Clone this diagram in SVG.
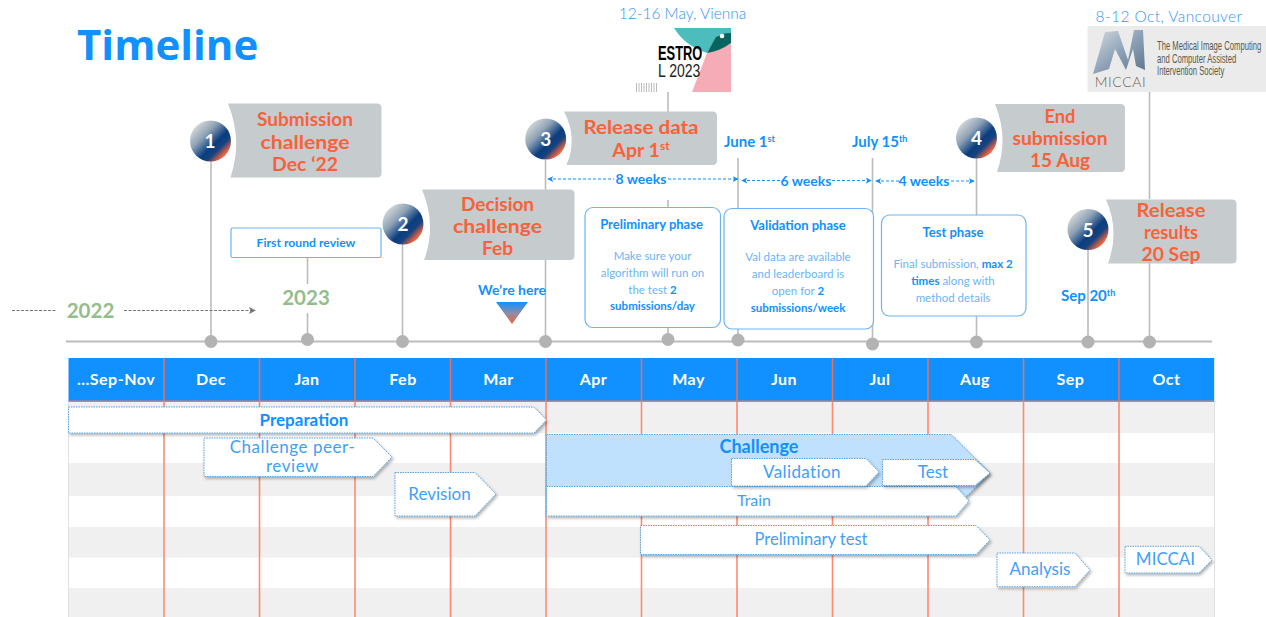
<svg xmlns="http://www.w3.org/2000/svg" width="1266" height="617" viewBox="0 0 1266 617">
<style>
text{font-family:"Lato","Open Sans","Liberation Sans",sans-serif;text-anchor:middle}
.title{font-family:"Open Sans","Liberation Sans",sans-serif;font-weight:700;font-size:42px;fill:#1190ff;text-anchor:start}
.banner{fill:#c6cbce}
.bt{font-weight:700;font-size:19.500px;fill:#f8623a}
.num{font-weight:700;font-size:19px;fill:#fff}
.ball{fill:url(#ball)}
.stem{stroke:#bcbcbc;stroke-width:1.600;fill:none}
.axis{stroke:#bcbcbc;stroke-width:2;fill:none}
.dot{fill:#b3b3b3}
.box{fill:#fff;stroke:#6cb4f7;stroke-width:1.200}
.bh{font-weight:700;font-size:13px;fill:#1190ff}
.bb{font-size:11.500px;fill:#6cb4f7}
.bb tspan{font-weight:700;fill:#1190ff}
.date{font-weight:700;font-size:15px;fill:#1190ff;text-anchor:start}
.wk{font-weight:700;font-size:14px;fill:#1190ff}
.wline{stroke:#1190ff;stroke-width:1.200;stroke-dasharray:3 2;fill:none;marker-start:url(#wa);marker-end:url(#wb)}
.place{font-size:15.500px;font-weight:300;fill:#2f95f5}
.yr{font-weight:700;font-size:20.500px;fill:#93bd8c}
.mon{font-weight:700;font-size:16px;fill:#fff;letter-spacing:.5px}
.grid{stroke:#ff8a70;stroke-width:1.600}
.gridh{stroke:#e8705a;stroke-width:1.600}
.rowg{fill:#f0f0f0}
.arr{fill:#fff;stroke:#5aa5e0;stroke-width:1;stroke-dasharray:1.500 1;filter:url(#sh)}
.at{font-size:17px;fill:#3fa0f8}
.ab{font-weight:700;font-size:17px;fill:#1190ff}
.logo{font-family:"Liberation Sans",sans-serif;text-anchor:start}
</style>
<defs>
<linearGradient id="ball" x1=".15" y1=".15" x2=".85" y2=".85">
<stop offset="0" stop-color="#cfd3d5"/><stop offset=".3" stop-color="#8ea2b6"/><stop offset=".62" stop-color="#0a3d7f"/><stop offset=".78" stop-color="#15437f"/><stop offset=".98" stop-color="#f8623a"/>
</linearGradient>
<linearGradient id="tri" x1="0" y1="0" x2="0" y2="1"><stop offset="0" stop-color="#1190ff"/><stop offset=".5" stop-color="#8a8ea8"/><stop offset="1" stop-color="#f8623a"/></linearGradient>
<linearGradient id="fade" x1="0" y1="0" x2="0" y2="1"><stop offset="0" stop-color="#1190ff" stop-opacity=".1"/><stop offset=".5" stop-color="#1190ff"/></linearGradient>
<linearGradient id="mg" x1="0" y1="0" x2="1" y2="1"><stop offset="0" stop-color="#d8dde2"/><stop offset=".5" stop-color="#8fa3b8"/><stop offset="1" stop-color="#5d7288"/></linearGradient>
<marker id="wa" viewBox="0 0 8 8" refX="1" refY="4" markerWidth="6" markerHeight="6" markerUnits="userSpaceOnUse" orient="auto"><path d="M8,0L0,4L8,8L6,4Z" fill="#1190ff"/></marker>
<marker id="wb" viewBox="0 0 8 8" refX="7" refY="4" markerWidth="6" markerHeight="6" markerUnits="userSpaceOnUse" orient="auto"><path d="M0,0L8,4L0,8L2,4Z" fill="#1190ff"/></marker>
<marker id="ga" viewBox="0 0 8 8" refX="7" refY="4" markerWidth="7" markerHeight="7" markerUnits="userSpaceOnUse" orient="auto"><path d="M0,0L8,4L0,8L2,4Z" fill="#777"/></marker>
<filter id="sh" x="-5%" y="-15%" width="112%" height="140%"><feDropShadow dx="1.500" dy="2" stdDeviation="1.500" flood-color="#000" flood-opacity=".3"/></filter>
</defs>

<rect width="1266" height="617" fill="#fff"/>
<text class="title" x="77" y="60">Timeline</text>

<g id="table">
<rect class="rowg" x="68.500" y="402" width="1146" height="31"/>
<rect class="rowg" x="68.500" y="463" width="1146" height="33"/>
<rect class="rowg" x="68.500" y="527" width="1146" height="30.500"/>
<rect class="rowg" x="68.500" y="588" width="1146" height="29"/>
<rect x="68.500" y="358" width="1145.500" height="43" fill="#1190ff"/>
<rect x="68.500" y="400.500" width="1145.500" height="1.500" fill="#f0785a"/>
<path d="M68.500,402V617M1214.500,358V617" stroke="#e2e2e2" fill="none"/>
<path class="grid" d="M164,401V617M259.500,401V617M355,401V617M450.500,401V617M546,401V617M641.500,401V617M737,401V617M832.500,401V617M928,401V617M1023.500,401V617M1119,401V617"/>
<path class="gridh" d="M164,358V401M259.500,358V401M355,358V401M450.500,358V401M546,358V401M641.500,358V401M737,358V401M832.500,358V401M928,358V401M1023.500,358V401M1119,358V401"/>
<text class="mon" x="116" y="385">...Sep-Nov</text>
<text class="mon" x="211" y="385">Dec</text>
<text class="mon" x="307" y="385">Jan</text>
<text class="mon" x="403" y="385">Feb</text>
<text class="mon" x="498.500" y="385">Mar</text>
<text class="mon" x="593.500" y="385">Apr</text>
<text class="mon" x="688.500" y="385">May</text>
<text class="mon" x="784" y="385">Jun</text>
<text class="mon" x="880" y="385">Jul</text>
<text class="mon" x="975" y="385">Aug</text>
<text class="mon" x="1070.500" y="385">Sep</text>
<text class="mon" x="1166.500" y="385">Oct</text>
</g>

<g id="connectors">
<path class="axis" d="M66,341.500H1212"/>
<path class="stem" d="M211,160V341M307.500,258V340M402.500,244V341M545.500,160V341M668,92V112M668,200V208M668,328V339M738,158V208M738,328V340M872.500,158V344M976.500,158V215M976.500,316V342M1088,250V342M1149.500,92V199M1149.500,263V342"/>
<path d="M512,98V276" fill="none" stroke="url(#fade)" stroke-width="1.600" stroke-dasharray="5 3"/>
<path d="M12,310.500H56" stroke="#777" stroke-width="1" stroke-dasharray="3 1.500" fill="none"/>
<path d="M124,310.500H255" stroke="#777" stroke-width="1" stroke-dasharray="3 1.500" fill="none" marker-end="url(#ga)"/>
<path class="wline" d="M548,179H738"/>
<path class="wline" d="M742,180.500H871"/>
<path class="wline" d="M876,181H974"/>
<circle class="dot" cx="211" cy="341.500" r="6.500"/>
<circle class="dot" cx="307.500" cy="339.500" r="6.500"/>
<circle class="dot" cx="402.500" cy="341.500" r="6.500"/>
<circle class="dot" cx="545.500" cy="341.500" r="6.500"/>
<circle class="dot" cx="668" cy="339.500" r="6.500"/>
<circle class="dot" cx="738" cy="340" r="6.500"/>
<circle class="dot" cx="872.500" cy="344" r="6.500"/>
<circle class="dot" cx="976.500" cy="342" r="6.500"/>
<circle class="dot" cx="1088" cy="342" r="6.500"/>
<circle class="dot" cx="1149.500" cy="342" r="6.500"/>
</g>

<g id="year-2022"><rect x="57" y="296" width="67" height="29" fill="#fff"/><text class="yr" x="90.500" y="317.500">2022</text></g>
<g id="year-2023"><rect x="284" y="284" width="44" height="29" fill="#fff"/><text class="yr" x="306" y="305">2023</text></g>

<g id="milestone-1">
<path class="banner" d="M228,103.500H377Q381.500,103.500 381.500,108V173Q381.500,177.500 377,177.500H230.500Q243,140 228,103.500Z"/>
<text class="bt" x="305" y="126" textLength="96" lengthAdjust="spacingAndGlyphs">Submission</text><text class="bt" x="305" y="148.500" textLength="89" lengthAdjust="spacingAndGlyphs">challenge</text><text class="bt" x="305" y="170.500" textLength="66" lengthAdjust="spacingAndGlyphs">Dec ‘22</text>
<circle class="ball" cx="210.500" cy="141" r="20.500"/><text class="num" x="210" y="148">1</text>
</g>
<g id="milestone-2">
<path class="banner" d="M422,189.500H570Q574.500,189.500 574.500,194V255.500Q574.500,260 570,260H424Q437,225 422,189.500Z"/>
<text class="bt" x="497.500" y="210.500" textLength="73" lengthAdjust="spacingAndGlyphs">Decision</text><text class="bt" x="497.500" y="232.500" textLength="89" lengthAdjust="spacingAndGlyphs">challenge</text><text class="bt" x="497.500" y="254.500" textLength="31" lengthAdjust="spacingAndGlyphs">Feb</text>
<circle class="ball" cx="403" cy="224" r="20.500"/><text class="num" x="403" y="231">2</text>
</g>
<g id="milestone-3">
<path class="banner" d="M564,111.500H712.500Q717,111.500 717,116V160.500Q717,165 712.500,165H566.500Q578,138 564,111.500Z"/>
<text class="bt" x="641" y="134" textLength="115" lengthAdjust="spacingAndGlyphs">Release data</text><text class="bt" x="641" y="157">Apr 1<tspan font-size="12" dy="-7">st</tspan></text>
<circle class="ball" cx="545.700" cy="139" r="20.500"/><text class="num" x="545.700" y="146">3</text>
</g>
<g id="milestone-4">
<path class="banner" d="M995,104H1120.500Q1125,104 1125,108.500V167.500Q1125,172 1120.500,172H997Q1009,138 995,104Z"/>
<text class="bt" x="1060" y="123" textLength="31" lengthAdjust="spacingAndGlyphs">End</text><text class="bt" x="1060" y="145" textLength="95" lengthAdjust="spacingAndGlyphs">submission</text><text class="bt" x="1060" y="167" textLength="60" lengthAdjust="spacingAndGlyphs">15 Aug</text>
<circle class="ball" cx="976.500" cy="138" r="20.500"/><text class="num" x="976.500" y="145">4</text>
</g>
<g id="milestone-5">
<path class="banner" d="M1106,199.500H1232Q1236.500,199.500 1236.500,204V259Q1236.500,263.500 1232,263.500H1108Q1120,231 1106,199.500Z"/>
<text class="bt" x="1171" y="217" textLength="69" lengthAdjust="spacingAndGlyphs">Release</text><text class="bt" x="1171" y="239" textLength="54" lengthAdjust="spacingAndGlyphs">results</text><text class="bt" x="1171" y="261" textLength="59" lengthAdjust="spacingAndGlyphs">20 Sep</text>
<circle class="ball" cx="1088" cy="229.500" r="20.500"/><text class="num" x="1088" y="236.500">5</text>
</g>

<g id="first-round"><rect class="box" x="231" y="228" width="150" height="29.500" rx="1.500"/><text class="bh" style="font-size:12.200px" x="306" y="247">First round review</text></g>

<g id="preliminary-phase"><rect class="box" x="585" y="207.500" width="135.500" height="120" rx="8"/>
<text class="bh" x="651.500" y="229">Preliminary phase</text>
<text class="bb" x="652.500" y="259.500">Make sure your</text><text class="bb" x="652.500" y="276.500">algorithm will run on</text><text class="bb" x="652.500" y="293.500">the test <tspan>2</tspan></text><text class="bb" x="652.500" y="310"><tspan>submissions/day</tspan></text></g>
<g id="validation-phase"><rect class="box" x="724" y="208.500" width="149.500" height="120.500" rx="8"/>
<text class="bh" x="798" y="230">Validation phase</text>
<text class="bb" x="798" y="261">Val data are available</text><text class="bb" x="798" y="278">and leaderboard is</text><text class="bb" x="798" y="295">open for <tspan>2</tspan></text><text class="bb" x="798" y="312"><tspan>submissions/week</tspan></text></g>
<g id="test-phase"><rect class="box" x="881.500" y="215" width="144.500" height="101" rx="8"/>
<text class="bh" x="953" y="237">Test phase</text>
<text class="bb" x="953" y="267.500">Final submission, <tspan>max 2</tspan></text><text class="bb" x="953" y="284.500"><tspan>times</tspan> along with</text><text class="bb" x="953" y="301.500">method details</text></g>

<g id="dates">
<text class="date" x="724" y="147">June 1<tspan font-size="9" dy="-5">st</tspan></text>
<text class="date" x="852" y="147">July 15<tspan font-size="9" dy="-5">th</tspan></text>
<text class="date" x="1061" y="301">Sep 20<tspan font-size="9" dy="-5">th</tspan></text>
</g>
<g id="weeks">
<rect x="614" y="170" width="54" height="17" fill="#fff"/><text class="wk" x="641" y="184">8 weeks</text>
<rect x="781" y="172" width="51" height="17" fill="#fff"/><text class="wk" x="806" y="185.500">6 weeks</text>
<rect x="899" y="172" width="50" height="17" fill="#fff"/><text class="wk" x="924" y="186">4 weeks</text>
</g>
<g id="here">
<text class="date" style="text-anchor:middle;font-size:14px" x="512" y="295">We’re here</text>
<path d="M496,302H528L512,324Z" fill="url(#tri)"/>
</g>

<g id="estro">
<text class="place" x="682.500" y="18.500">12-16 May, Vienna</text>
<rect x="634" y="28" width="97" height="64" fill="#fff"/>
<path d="M731,43Q720,50 707,53L692,92H731Z" fill="#f5acb7"/>
<path d="M674,28H731V34L718,35L707,53Q685,46 674,28Z" fill="#4dbcbc"/>
<path d="M707,53L716,37Q722,33 731,33V43Q720,51 707,53Z" fill="#08645f"/>
<circle cx="722" cy="36" r="2.300" fill="#fff"/>
<text class="logo" transform="translate(658,60) scale(.66,1)" font-size="19.500" font-weight="700" fill="#000">ESTRO</text>
<text class="logo" transform="translate(658,77) scale(.78,1)" font-size="18" fill="#222">L 2023</text>
<path d="M636.500,83V92M639,83V92M641.500,83V92M644,83V92M646.500,83V92M649,83V92M651.500,83V92M654,83V92M656.500,83V92" stroke="#aaa" stroke-width=".8"/>
</g>

<g id="miccai">
<text class="place" style="letter-spacing:.4px" x="1169" y="22">8-12 Oct, Vancouver</text>
<rect x="1087.500" y="26" width="178.500" height="66" fill="#ebebeb"/>
<path d="M1093,74L1105,32L1118,31L1128,60L1134,30L1143,30L1145,70L1136,66L1133,49L1126,70L1115,49L1109,69Z" fill="url(#mg)"/>
<text x="1120.500" y="87" font-size="14" font-weight="300" fill="#6b6250" style="letter-spacing:.6px">MICCAI</text>
<text class="logo" transform="translate(1157,50) scale(.59,1)" font-size="13" fill="#5a5a48">The Medical Image Computing</text>
<text class="logo" transform="translate(1157,63) scale(.59,1)" font-size="13" fill="#5a5a48">and Computer Assisted</text>
<text class="logo" transform="translate(1157,75) scale(.59,1)" font-size="13" fill="#5a5a48">Intervention Society</text>
</g>

<g id="bar-preparation"><path class="arr" d="M68.500,407H534L546.500,420L534,433H68.500Z"/><text class="ab" x="304" y="426">Preparation</text></g>
<g id="bar-peer-review"><path class="arr" d="M204,438H373L392,457L373,476.500H204Z"/><text class="at" style="letter-spacing:.55px" x="292.500" y="453">Challenge peer-</text><text class="at" style="letter-spacing:.55px" x="292.500" y="472">review</text></g>
<g id="bar-revision"><path class="arr" d="M395,472.500H475L496,494L475,516H395Z"/><text class="at" x="439.500" y="499.500">Revision</text></g>
<g id="bar-challenge"><path d="M546.500,434.500H951L990,473L951,512H546.500Z" fill="#bfe1fd" stroke="#5aa5e0" stroke-dasharray="1.500 1" filter="url(#sh)"/><text class="ab" style="font-size:18px" x="759" y="452.500">Challenge</text></g>
<g id="bar-train"><path class="arr" d="M546.500,486.500H956L969,501L956,516H546.500Z"/><text class="at" style="font-size:16px" x="754" y="506">Train</text></g>
<g id="bar-validation"><path class="arr" d="M731.500,458.500H866L879,472L866,486H731.500Z"/><text class="at" style="letter-spacing:.4px" x="802" y="478">Validation</text></g>
<g id="bar-test"><path class="arr" d="M882.500,459.500H975L990,473L975,485.500H882.500Z"/><text class="at" x="933" y="478">Test</text></g>
<g id="bar-preliminary"><path class="arr" d="M640.500,525.500H976L990,540L976,554.500H640.500Z"/><text class="at" style="font-size:16.500px" x="811" y="545">Preliminary test</text></g>
<g id="bar-analysis"><path class="arr" d="M997,553H1075L1090,570L1075,586.700H997Z"/><text class="at" x="1040" y="575">Analysis</text></g>
<g id="bar-miccai"><path class="arr" d="M1125,546.300H1199L1212,560L1199,573H1125Z"/><text class="at" x="1165.500" y="565">MICCAI</text></g>
</svg>
